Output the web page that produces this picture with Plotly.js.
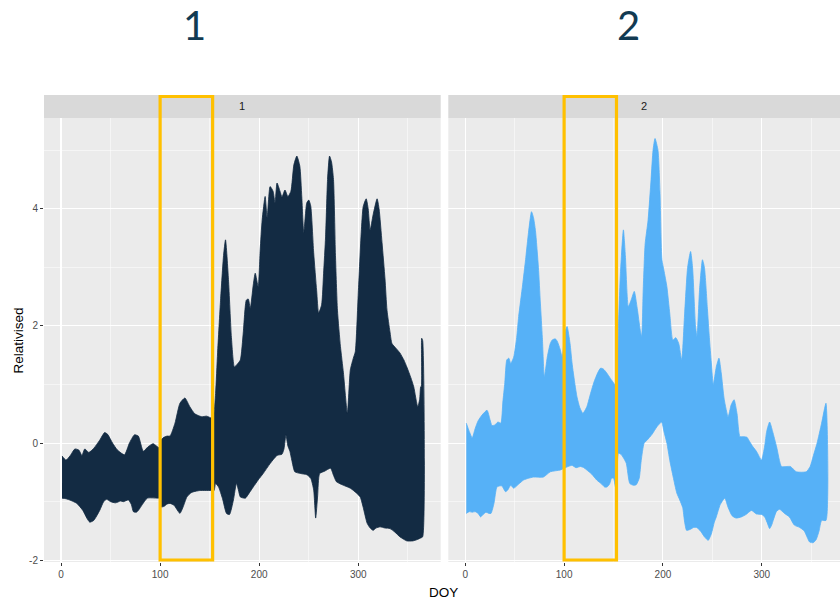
<!DOCTYPE html>
<html>
<head>
<meta charset="utf-8">
<script src="https://cdn.plot.ly/plotly-3.0.1.min.js"></script>
<style>
  html, body { margin: 0; padding: 0; background: #ffffff; }
  #chart { width: 840px; height: 604px; }
</style>
</head>
<body>
<div id="chart"></div>
<script>
// Facet labels and axis ticks
const facetLabels = ['1', '2'];
const doyTicks = [0, 100, 200, 300];
const relTicks = [-2, 0, 2, 4];

// Facet 1: upper and lower envelope of the relativised values by day of year
const doy1Upper = [1, 5, 9, 14, 18, 21, 24, 28, 33, 39, 44, 47, 52, 57, 64, 69, 74, 78, 83, 88, 93, 99,
  101, 103, 107, 110, 115, 120, 125, 130, 135, 142, 147, 153, 154, 156, 158, 161, 164, 166, 169, 172,
  175, 178, 181, 184, 187, 189, 191, 194, 196, 199, 201, 203, 206, 208, 211, 214, 216, 218, 221, 223,
  226, 229, 232, 235, 238, 241, 243, 245, 248, 250, 252, 255, 258, 260, 263, 265, 267, 269, 271, 273,
  275, 277, 279, 282, 285, 289, 292, 295, 297, 300, 303, 305, 308, 310, 312, 315, 319, 321, 324, 327,
  329, 332, 334, 338, 342, 346, 349, 353, 356, 360, 362, 363, 363.6, 364, 365];
const rel1Upper = [-0.22, -0.29, -0.22, -0.10, -0.12, -0.21, -0.10, -0.16, -0.09, 0.05, 0.18, 0.15, 0.00,
  -0.12, -0.20, 0.00, 0.14, 0.12, -0.14, -0.06, -0.01, -0.08,
  0.05, 0.09, 0.12, 0.12, 0.34, 0.68, 0.77, 0.62, 0.50, 0.45, 0.46, 0.42, 0.45, 0.85, 1.54, 2.44, 3.20,
  3.47, 2.79, 1.80, 1.30, 1.35, 1.42, 1.90, 2.44, 2.46, 2.30, 2.70, 2.90, 2.67, 3.30, 3.81, 4.21, 3.85,
  4.38, 4.30, 4.10, 4.44, 4.30, 4.20, 4.32, 4.21, 4.30, 4.75, 4.90, 4.73, 4.20, 3.59, 4.10, 4.15, 4.05,
  3.25, 2.60, 2.22, 2.36, 2.90, 3.52, 4.50, 4.90, 4.80, 4.50, 3.20, 2.27, 1.65, 1.20, 0.51, 1.25, 1.45,
  1.56, 2.56, 3.60, 4.04, 4.17, 4.00, 3.64, 3.90, 4.17, 4.00, 3.42, 2.80, 2.27, 1.90, 1.70, 1.62, 1.54,
  1.42, 1.30, 1.12, 0.96, 0.62, 0.75, 0.96, 0.96, 1.79, 1.75];
const doy1Lower = [1, 5, 10, 16, 22, 26, 29, 33, 39, 43, 46, 50, 55, 60, 63, 68, 71, 73, 76, 78, 82, 87,
  97, 99, 101, 104, 107, 110, 114, 118, 120, 123, 127, 131, 134, 140, 153, 154.5, 156, 159, 163, 167,
  170, 174, 177, 179, 181, 186, 190, 194, 199, 204, 211, 218, 223, 225, 227, 229, 231, 233, 236, 242,
  248, 252, 255, 257, 259, 261, 266, 272, 275, 278, 285, 292, 298, 302, 305, 309, 312, 315, 318, 322,
  327, 332, 337, 342, 349, 355, 359, 363, 365];
const rel1Lower = [-0.94, -0.95, -0.98, -1.03, -1.15, -1.28, -1.35, -1.32, -1.15, -1.00, -0.96, -1.00,
  -1.02, -0.99, -1.00, -0.97, -1.05, -1.17, -1.18, -1.15, -1.05, -0.94, -0.94, -0.94, -1.09, -1.08, -1.04,
  -1.03, -1.06, -1.16, -1.20, -1.10, -0.92, -0.85, -0.83, -0.81, -0.81, -0.81, -0.69, -0.75, -0.95,
  -1.20, -1.22, -0.97, -0.69, -0.80, -0.92, -0.94, -0.85, -0.75, -0.63, -0.52, -0.35, -0.21, -0.19,
  -0.10, 0.14, -0.05, -0.14, -0.30, -0.49, -0.52, -0.54, -0.60, -0.80, -1.28, -0.90, -0.52, -0.48, -0.43,
  -0.55, -0.66, -0.72, -0.77, -0.85, -0.92, -1.10, -1.37, -1.45, -1.49, -1.45, -1.43, -1.45, -1.46,
  -1.52, -1.60, -1.67, -1.67, -1.65, -1.62, -1.60];

// Facet 2: upper and lower envelope
const doy2Upper = [1, 4, 7, 10, 13, 17, 22, 25, 27, 30, 33, 36, 38, 40, 42, 44, 46, 49, 52, 54, 58, 61,
  64, 67, 69, 71, 74, 76, 78, 80, 83, 86, 88, 91, 93, 96, 98, 101, 103, 106, 108, 111, 113, 116, 119,
  123, 126, 130, 134, 137, 140, 143, 147, 150, 153, 155, 157, 160, 162, 165, 168, 171, 174, 177, 178.5,
  180, 182, 185, 188, 190, 192, 195, 197, 199, 201, 204, 207, 210, 213, 216, 219, 222, 225, 228, 230,
  233, 234.5, 237, 240, 242, 245, 247, 249, 251, 254, 256.7, 259, 262, 266, 269, 272, 275, 278, 282,
  285, 288, 291, 295, 299.7, 303, 305, 308, 311, 315, 320, 325, 329, 335, 345, 349, 352, 356, 360.6,
  365];
const rel2Upper = [0.34, 0.20, 0.09, 0.25, 0.38, 0.48, 0.56, 0.40, 0.30, 0.31, 0.36, 0.34, 0.70, 1.03,
  1.42, 1.45, 1.36, 1.47, 1.80, 2.16, 2.70, 3.13, 3.60, 3.95, 3.85, 3.63, 3.00, 2.39, 1.80, 1.13, 1.47,
  1.70, 1.76, 1.78, 1.74, 1.60, 1.47, 1.90, 1.99, 1.70, 1.37, 1.00, 0.79, 0.60, 0.51, 0.62, 0.80, 1.03,
  1.20, 1.28, 1.26, 1.20, 1.10, 1.03, 0.95, 2.00, 2.90, 3.64, 3.20, 2.33, 2.45, 2.59, 2.30, 1.93, 1.82,
  2.60, 3.40, 3.81, 4.50, 5.00, 5.20, 5.00, 4.30, 3.13, 2.95, 2.67, 2.20, 1.76, 1.80, 1.70, 1.42, 2.22,
  3.00, 3.27, 3.00, 2.00, 1.82, 2.60, 3.13, 3.00, 2.30, 1.80, 1.37, 1.00, 1.30, 1.45, 1.20, 0.75, 0.45,
  0.65, 0.74, 0.50, 0.11, 0.11, 0.10, 0.02, -0.06, -0.15, -0.29, -0.05, 0.20, 0.36, 0.20, -0.06, -0.40,
  -0.40, -0.40, -0.49, -0.49, -0.40, -0.23, 0.00, 0.34, 0.68];
const doy2Lower = [1, 4, 7, 10, 13, 15.5, 18, 21, 24, 26, 29, 32, 35, 37, 40.7, 43, 46, 49, 54, 59, 64,
  69, 79, 86, 96, 100, 104, 108, 112, 116.5, 120, 123, 128, 133, 138, 141, 143.4, 146, 148, 150, 152,
  153.5, 155, 158, 161, 163, 166.5, 170, 173, 176, 178, 181, 184, 189, 194, 198.7, 201, 204, 207, 210.4,
  214, 217, 220, 222, 224, 228, 231, 234, 238, 242, 245.8, 249, 252, 254, 258, 262.6, 266, 270, 274,
  279.5, 284, 289.6, 294.6, 300, 303, 306, 308, 310, 314.8, 318, 323, 328, 333, 338.4, 343, 348.5, 352,
  355, 358, 360.6, 365];
const rel2Lower = [-1.20, -1.17, -1.18, -1.17, -1.20, -1.26, -1.22, -1.18, -1.20, -1.20, -1.03, -0.75,
  -0.73, -0.73, -0.83, -0.80, -0.72, -0.77, -0.70, -0.63, -0.60, -0.58, -0.58, -0.49, -0.46, -0.43, -0.40,
  -0.38, -0.42, -0.40, -0.42, -0.46, -0.53, -0.63, -0.70, -0.75, -0.75, -0.70, -0.60, -0.60, -0.75, -0.55,
  -0.17, -0.20, -0.28, -0.35, -0.69, -0.72, -0.71, -0.60, -0.30, 0.00, 0.05, 0.15, 0.28, 0.36, 0.20, 0.00,
  -0.30, -0.58, -0.85, -0.97, -1.10, -1.35, -1.49, -1.47, -1.44, -1.44, -1.50, -1.60, -1.66, -1.55, -1.35,
  -1.26, -1.05, -0.94, -1.10, -1.24, -1.28, -1.26, -1.22, -1.15, -1.21, -1.22, -1.26, -1.38, -1.46, -1.40,
  -1.17, -1.13, -1.20, -1.26, -1.40, -1.44, -1.50, -1.69, -1.70, -1.65, -1.50, -1.32, -1.32];

// Highlighted day-of-year window
const windowDoy = [100, 153];

const fillColours = ['#132B43', '#56B1F7'];
const highlight = '#FFC000';

// Close the band: upper edge left to right, lower edge right to left
function band(xu, yu, xl, yl, xa, ya, colour) {
  return {
    type: 'scatter', mode: 'lines', xaxis: xa, yaxis: ya,
    x: xu.concat(xl.slice().reverse()),
    y: yu.concat(yl.slice().reverse()),
    fill: 'toself', fillcolor: colour,
    line: { color: colour, width: 0.8, shape: 'spline', smoothing: 0.55 },
    hoverinfo: 'skip', showlegend: false
  };
}

const traces = [
  band(doy1Upper, rel1Upper, doy1Lower, rel1Lower, 'x', 'y', fillColours[0]),
  band(doy2Upper, rel2Upper, doy2Lower, rel2Lower, 'x2', 'y2', fillColours[1])
];

// Geometry in pixels
const W = 840, H = 604;
const mL = 44, mR = 0, mT = 118, mB = 42;
const plotW = W - mL - mR, plotH = H - mT - mB;
const px2paperX = p => (p - mL) / plotW;
const px2paperY = p => (H - mB - p) / plotH;

const dom1 = [0, px2paperX(440.7)];
const dom2 = [px2paperX(448.3), 1];
const stripTop = px2paperY(95);

const tickFont = { family: 'Liberation Sans, Arial, sans-serif', size: 10, color: '#4d4d4d' };

function xAxis(domain, range, anchor) {
  return {
    domain: domain, range: range, anchor: anchor,
    tickmode: 'array', tickvals: doyTicks, ticktext: doyTicks.map(String),
    showgrid: true, gridcolor: '#ffffff', gridwidth: 1.1, zeroline: false,
    minor: { tickmode: 'linear', tick0: 50, dtick: 100, showgrid: true, gridcolor: '#ffffff', gridwidth: 0.5, ticks: '' },
    ticks: 'outside', ticklen: 3, tickwidth: 1, tickcolor: '#333333',
    tickfont: tickFont, showline: false, fixedrange: true
  };
}
function yAxis(anchor, labels) {
  return {
    domain: [0, 1], range: [-2.03, 5.55], anchor: anchor,
    tickmode: 'array', tickvals: relTicks, ticktext: relTicks.map(String),
    showticklabels: labels,
    showgrid: true, gridcolor: '#ffffff', gridwidth: 1.1, zeroline: false,
    minor: { tickmode: 'linear', tick0: -1, dtick: 2, showgrid: true, gridcolor: '#ffffff', gridwidth: 0.5, ticks: '' },
    ticks: labels ? 'outside' : '', ticklen: 3, tickwidth: 1, tickcolor: '#333333',
    tickfont: tickFont, showline: false, fixedrange: true
  };
}

const shapes = [];
const annotations = [];
[dom1, dom2].forEach((d, i) => {
  // facet strip
  shapes.push({ type: 'rect', xref: 'paper', yref: 'paper', x0: d[0], x1: d[1], y0: 1, y1: stripTop,
    fillcolor: '#d9d9d9', line: { width: 0 }, layer: 'below' });
  annotations.push({ xref: 'paper', yref: 'paper', x: (d[0] + d[1]) / 2, y: (1 + stripTop) / 2,
    text: facetLabels[i], showarrow: false, xanchor: 'center', yanchor: 'middle',
    font: { family: 'Liberation Sans, Arial, sans-serif', size: 11, color: '#1a1a1a' } });
  // highlighted window
  shapes.push({ type: 'rect', xref: i === 0 ? 'x' : 'x2', yref: 'paper',
    x0: windowDoy[0], x1: windowDoy[1], y0: px2paperY(560), y1: px2paperY(96.5),
    line: { color: highlight, width: 3.2 }, fillcolor: 'rgba(0,0,0,0)', layer: 'above' });
});

// large headings above each facet
const headingFont = { family: 'Lato, Open Sans, sans-serif', size: 40, color: '#123a52' };
annotations.push({ xref: 'paper', yref: 'paper', x: px2paperX(194), y: px2paperY(25), text: facetLabels[0],
  showarrow: false, xanchor: 'center', yanchor: 'middle', font: headingFont });
annotations.push({ xref: 'paper', yref: 'paper', x: px2paperX(628), y: px2paperY(25), text: facetLabels[1],
  showarrow: false, xanchor: 'center', yanchor: 'middle', font: headingFont });

// axis titles
const axisTitleFont = { family: 'Liberation Sans, Arial, sans-serif', size: 13.5, color: '#000000' };
annotations.push({ xref: 'paper', yref: 'paper', x: px2paperX(444), y: px2paperY(592), text: 'DOY',
  showarrow: false, xanchor: 'center', yanchor: 'middle', font: axisTitleFont });
annotations.push({ xref: 'paper', yref: 'paper', x: px2paperX(17.5), y: px2paperY(341), text: 'Relativised',
  textangle: -90, showarrow: false, xanchor: 'center', yanchor: 'middle', font: axisTitleFont });

const layout = {
  width: W, height: H,
  margin: { l: mL, r: mR, t: mT, b: mB, pad: 0 },
  paper_bgcolor: '#ffffff', plot_bgcolor: '#ebebeb',
  showlegend: false,
  xaxis: xAxis(dom1, [-17.2, 383.2], 'y'),
  xaxis2: xAxis(dom2, [-17.2, 379.2], 'y2'),
  yaxis: yAxis('x', true),
  yaxis2: yAxis('x2', false),
  shapes: shapes,
  annotations: annotations
};

Plotly.newPlot('chart', traces, layout, { displayModeBar: false, staticPlot: true });
</script>
</body>
</html>
